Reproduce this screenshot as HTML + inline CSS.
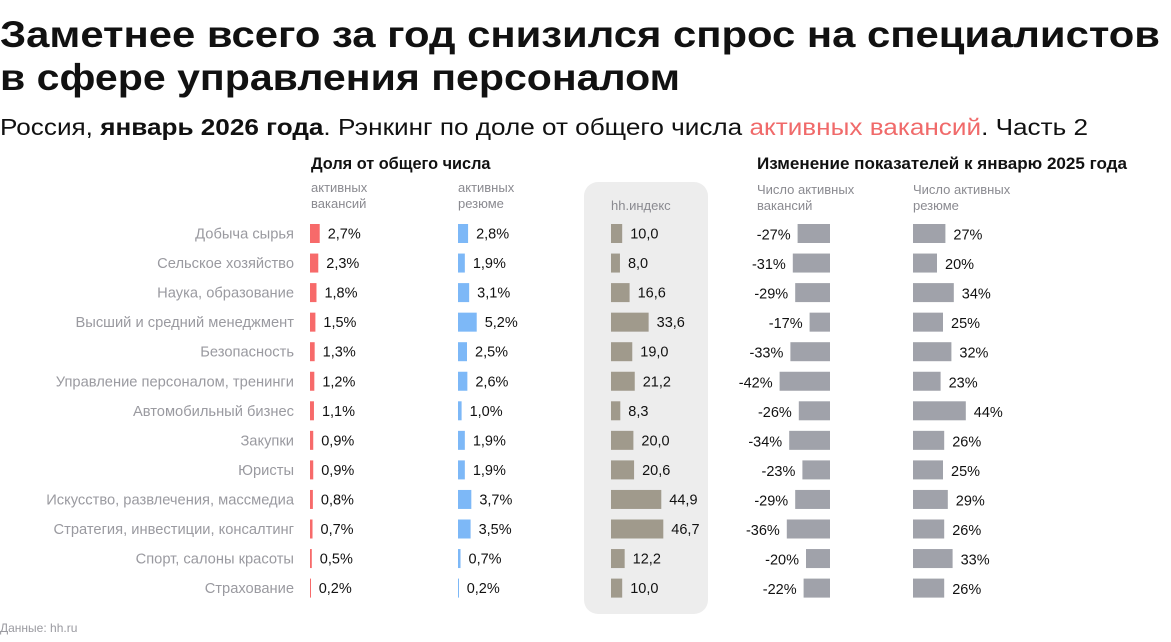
<!DOCTYPE html>
<html><head><meta charset="utf-8">
<style>
body{margin:0;background:#fff;width:1171px;height:637px;overflow:hidden;font-family:"Liberation Sans",sans-serif;}
svg text{font-family:"Liberation Sans",sans-serif;}
</style></head>
<body>
<svg id="chart" width="1171" height="637" xmlns="http://www.w3.org/2000/svg">
<text x="0" y="47" font-size="37" font-weight="bold" fill="#111" textLength="1160" lengthAdjust="spacingAndGlyphs">Заметнее всего за год снизился спрос на специалистов</text>
<text x="0" y="90" font-size="37" font-weight="bold" fill="#111" textLength="680" lengthAdjust="spacingAndGlyphs">в сфере управления персоналом</text>
<text x="0" y="135" font-size="23" fill="#111" textLength="1088" lengthAdjust="spacingAndGlyphs">Россия, <tspan font-weight="bold">январь 2026 года</tspan>. Рэнкинг по доле от общего числа <tspan fill="#f06a6a">активных вакансий</tspan>. Часть 2</text>
<rect x="584" y="182" width="124" height="432" rx="14" fill="#ededed"/>
<text x="311" y="169" font-size="16.3" font-weight="bold" fill="#111">Доля от общего числа</text>
<text x="757" y="169" font-size="16.3" font-weight="bold" fill="#111" textLength="370" lengthAdjust="spacingAndGlyphs">Изменение показателей к январю 2025 года</text>
<text font-size="13" fill="#8a8a90"><tspan x="311" y="192">активных</tspan><tspan x="311" y="208">вакансий</tspan></text>
<text font-size="13" fill="#8a8a90"><tspan x="458" y="192">активных</tspan><tspan x="458" y="208">резюме</tspan></text>
<text x="611" y="210" font-size="13" fill="#8a8a90">hh.индекс</text>
<text font-size="13" fill="#8a8a90"><tspan x="757" y="194">Число активных</tspan><tspan x="757" y="210">вакансий</tspan></text>
<text font-size="13" fill="#8a8a90"><tspan x="913" y="194">Число активных</tspan><tspan x="913" y="210">резюме</tspan></text>
<text x="0" y="632" font-size="12" fill="#9a9aa0">Данные: hh.ru</text>
<g id="rows"></g>
</svg>
<script>
const categories=["Добыча сырья","Сельское хозяйство","Наука, образование","Высший и средний менеджмент","Безопасность","Управление персоналом, тренинги","Автомобильный бизнес","Закупки","Юристы","Искусство, развлечения, массмедиа","Стратегия, инвестиции, консалтинг","Спорт, салоны красоты","Страхование"];
const vacancyShare=[2.7,2.3,1.8,1.5,1.3,1.2,1.1,0.9,0.9,0.8,0.7,0.5,0.2];
const resumeShare=[2.8,1.9,3.1,5.2,2.5,2.6,1.0,1.9,1.9,3.7,3.5,0.7,0.2];
const hhIndex=[10.0,8.0,16.6,33.6,19.0,21.2,8.3,20.0,20.6,44.9,46.7,12.2,10.0];
const vacancyChange=[-27,-31,-29,-17,-33,-42,-26,-34,-23,-29,-36,-20,-22];
const resumeChange=[27,20,34,25,32,23,44,26,25,29,26,33,26];

const NS="http://www.w3.org/2000/svg";
const g=document.getElementById('rows');
const yRow=i=>233.5+i*29.55;
const xShare=v=>v*3.6;
const xHH=v=>v*1.12;
const xChg=v=>Math.abs(v)*1.2;
const fmt=(v,d)=>v.toFixed(d).replace('.',',');
function mk(tag,attrs){const e=document.createElementNS(NS,tag);for(const k in attrs)e.setAttribute(k,attrs[k]);g.appendChild(e);return e;}
function txt(x,y,s,anchor,fill,size){const t=mk('text',{x:x,y:y,'text-anchor':anchor,fill:fill,'font-size':size});t.textContent=s;return t;}
categories.forEach((c,i)=>{
  const y=yRow(i);
  let t=txt(294,y+5,c,'end','#9a9aa0',14.7);
  
  
  let w=xShare(vacancyShare[i]);
  let r=mk('rect',{x:310,y:y-9.5,width:Math.max(w,1),height:19,fill:'#f76a6a'});
  
  
  t=txt(310+w+8,y+5,fmt(vacancyShare[i],1)+'%','start','#111',14.5);
  
  
  w=xShare(resumeShare[i]);
  r=mk('rect',{x:458,y:y-9.5,width:Math.max(w,1),height:19,fill:'#7db8f7'});
  
  
  t=txt(458+w+8,y+5,fmt(resumeShare[i],1)+'%','start','#111',14.5);
  
  
  w=xHH(hhIndex[i]);
  r=mk('rect',{x:611,y:y-9.5,width:w,height:19,fill:'#a09a8c'});
  
  
  t=txt(611+w+8,y+5,fmt(hhIndex[i],1),'start','#111',14.5);
  
  
  w=xChg(vacancyChange[i]);
  r=mk('rect',{x:830-w,y:y-9.5,width:w,height:19,fill:'#a0a2aa'});
  
  
  t=txt(830-w-7,y+6,vacancyChange[i]+'%','end','#111',14.5);
  
  
  w=xChg(resumeChange[i]);
  r=mk('rect',{x:913,y:y-9.5,width:w,height:19,fill:'#a0a2aa'});
  
  
  t=txt(913+w+8,y+6,resumeChange[i]+'%','start','#111',14.5);
  
  
});
</script>
</body></html>
